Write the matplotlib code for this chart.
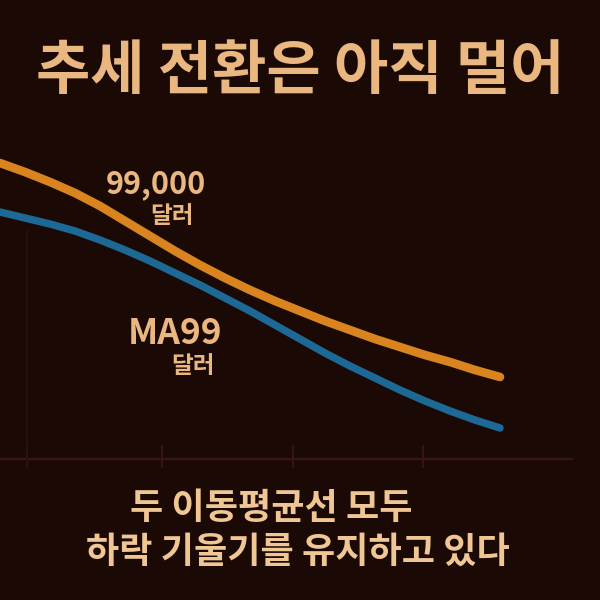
import matplotlib.pyplot as plt

plt.rcParams['font.family'] = ['Noto Sans CJK KR', 'DejaVu Sans']

# days along the x axis, and the two moving averages (arbitrary price units)
days = list(range(0, 101, 5))
price = [296, 287, 277, 266, 253, 238, 223, 208, 194, 181, 169,
         158, 148, 138, 129, 120, 112, 104, 97, 89, 82]
ma99 = [247, 241, 235, 228, 219, 209, 198, 186, 174, 161, 148,
        134, 120, 106, 93, 81, 69, 58, 48, 39, 31]
tick_days = [5.4, 32.4, 58.6, 84.6]

title = "추세 전환은 아직 멀어"
label_price = "99,000"
label_ma = "MA99"
unit = "달러"
caption1 = "두 이동평균선 모두"
caption2 = "하락 기울기를 유지하고 있다"

bg = "#1b0906"
tan = "#e9b77f"
grid_col = "#3b1611"

fig = plt.figure(figsize=(6, 6), dpi=100)
fig.patch.set_facecolor(bg)

ax = fig.add_axes([0, 141 / 600, 1, 459 / 600])
ax.set_facecolor(bg)
ax.set_xlim(0, 120)
ax.set_ylim(0, 459)
ax.axis("off")

# baseline, ticks and a faint guide
ax.hlines(0, 0, 114.6, color=grid_col, lw=1.6, clip_on=False)
ax.vlines(tick_days, -9, 14, color=grid_col, lw=1.3, clip_on=False)
ax.vlines(tick_days[0], -9, 229, color="#2c0f0b", lw=1.3, clip_on=False)

ax.plot(days, price, color="#da8420", lw=6.2, solid_capstyle="round",
        solid_joinstyle="round")
ax.plot(days, ma99, color="#1c6996", lw=5.4, solid_capstyle="round",
        solid_joinstyle="round")

ax.text(31.2, 275, label_price, color=tan, fontsize=22, fontweight="bold",
        ha="center", va="center")
ax.text(34.4, 243, unit, color=tan, fontsize=17, fontweight="bold",
        ha="center", va="center")
ax.text(35, 125, label_ma, color=tan, fontsize=25.5, fontweight="bold",
        ha="center", va="center")
ax.text(38.6, 93, unit, color=tan, fontsize=17, fontweight="bold",
        ha="center", va="center")

fig.text(0.5, 1 - 72 / 600, title, color=tan, fontsize=42.5, fontweight="bold",
         ha="center", va="center")
fig.text(271 / 600, 1 - 508 / 600, caption1, color="#f0c794", fontsize=26,
         fontweight="bold", ha="center", va="center")
fig.text(298 / 600, 1 - 552 / 600, caption2, color="#f0c794", fontsize=26,
         fontweight="bold", ha="center", va="center")

fig.savefig("out.png", dpi=100, facecolor=bg)
